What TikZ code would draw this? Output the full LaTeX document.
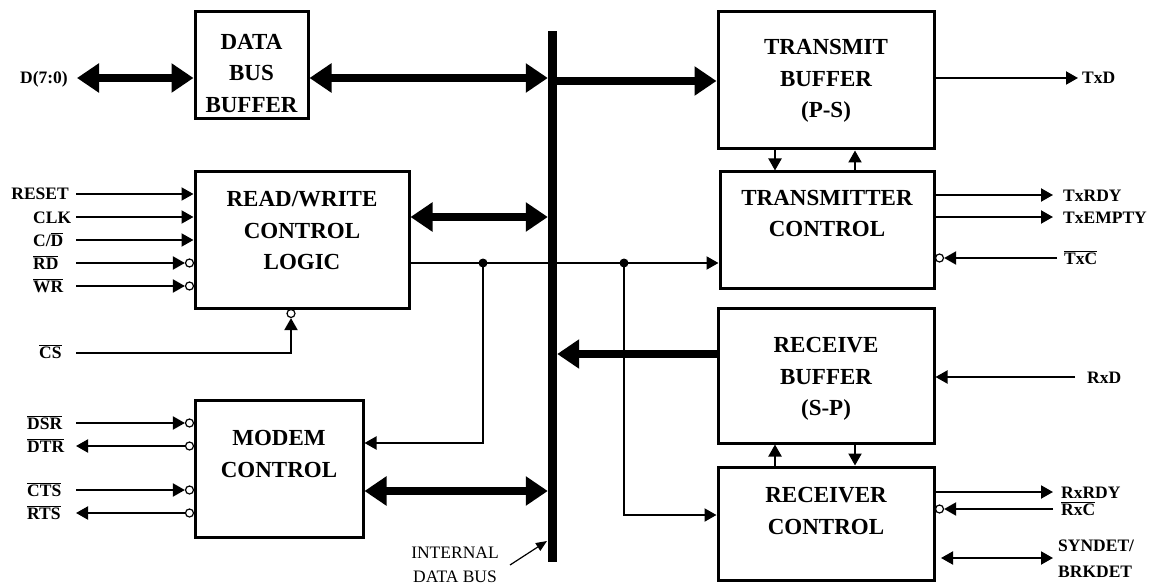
\documentclass[tikz,border=0pt]{standalone}
\usepackage{fontspec}
\setmainfont{Liberation Serif}
\usetikzlibrary{arrows.meta}
\newcommand{\ovl}[1]{\ensuremath{\overline{\hbox{#1}}}}
\newcommand{\bt}[2]{\raisebox{#1}[0pt][0pt]{\begin{tabular}{@{}c@{}}#2\end{tabular}}}
\begin{document}
\begin{tikzpicture}[x=1pt,y=-1pt,
  box/.style={draw, line width=3pt, font=\fontsize{23}{31.5}\selectfont\bfseries, inner sep=0pt},
  sig/.style={line width=2pt, -{Triangle[length=12pt,width=13pt]}},
  sigb/.style={line width=2pt, {Triangle[length=12pt,width=13pt]}-{Triangle[length=12pt,width=13pt]}},
  busarr/.style={line width=8pt, -{Triangle[length=22pt,width=28pt]}},
  busarrb/.style={line width=8pt, {Triangle[length=22pt,width=28pt]}-{Triangle[length=22pt,width=28pt]}},
  lbl/.style={font=\fontsize{17.5}{20}\selectfont\bfseries, inner sep=0pt},
  bub/.style={circle, draw, fill=white, line width=1.2pt, minimum size=8pt, inner sep=0pt},
  jdot/.style={circle, fill, minimum size=9pt, inner sep=0pt}]
\useasboundingbox (0,0) rectangle (1153,588);

% bus
\node[fill, inner sep=0pt, minimum width=9pt, minimum height=531pt] (bus) at (552.5,296.5) {};

% boxes
\node[box, minimum width=113pt, minimum height=107pt] (dbb) at (251.5,65.5) {\bt{-15pt}{DATA\\BUS\\BUFFER}};
\node[box, minimum width=214pt, minimum height=136pt] (rw) at (302,240) {\bt{2pt}{READ/WRITE\\CONTROL\\LOGIC}};
\node[box, minimum width=168pt, minimum height=137pt] (mc) at (279,468.5) {\bt{7pt}{MODEM\\CONTROL}};
\node[box, minimum width=216pt, minimum height=137pt] (tb) at (826,80.5) {\bt{-5.5pt}{TRANSMIT\\BUFFER\\(P-S)}};
\node[box, minimum width=214pt, minimum height=116pt] (tc) at (827,230) {\bt{9pt}{TRANSMITTER\\CONTROL}};
\node[box, minimum width=216pt, minimum height=135pt] (rb) at (826,375.5) {\bt{-8.5pt}{RECEIVE\\BUFFER\\(S-P)}};
\node[box, minimum width=216pt, minimum height=113pt] (rc) at (826,523.5) {\bt{5pt}{RECEIVER\\CONTROL}};

% D(7:0) and bus arrows
\node[lbl, anchor=base east] (lD) at (68,84) {D(7:0)};
\coordinate (pD) at (77,78);
\draw[busarrb] (pD) -- (dbb.west |- pD);
\draw[busarrb] (dbb.east |- pD) -- (bus.west |- pD);
\coordinate (rTB) at (0,81);
\draw[busarr] (bus.east |- rTB) -- (tb.west |- rTB);
\coordinate (rRW) at (0,217);
\draw[busarrb] (rw.east |- rRW) -- (bus.west |- rRW);
\coordinate (rMC) at (0,491);
\draw[busarrb] (mc.east |- rMC) -- (bus.west |- rMC);
\coordinate (rRB) at (0,354);
\draw[busarr] (rb.west |- rRB) -- (bus.east |- rRB);

% left inputs to read/write logic
\node[lbl, anchor=base east] (lRESET) at (69,200) {RESET};
\node[lbl, anchor=base west] (lCLK) at (33,223) {CLK};
\node[lbl, anchor=base west] (lCD) at (33,246) {C/\ovl{D}};
\node[lbl, anchor=base west] (lRD) at (33,269) {\ovl{RD}};
\node[lbl, anchor=base west] (lWR) at (33,292) {\ovl{WR}};
\coordinate (pRESET) at (76,194);
\coordinate (pCLK) at (76,217);
\coordinate (pCD) at (76,240);
\coordinate (pRD) at (76,263);
\coordinate (pWR) at (76,286);
\draw[sig] (pRESET) -- (rw.west |- pRESET);
\draw[sig] (pCLK) -- (rw.west |- pCLK);
\draw[sig] (pCD) -- (rw.west |- pCD);
\node[bub, xshift=-4pt] (bRD) at (rw.west |- pRD) {};
\node[bub, xshift=-4pt] (bWR) at (rw.west |- pWR) {};
\draw[sig] (pRD) -- (bRD.west);
\draw[sig] (pWR) -- (bWR.west);

% CS
\node[lbl, anchor=base west] (lCS) at (39,358) {\ovl{CS}};
\coordinate (pCS) at (76,353);
\coordinate (cCS) at (291,353);
\node[bub, yshift=-4pt] (bCS) at (rw.south -| cCS) {};
\draw[sig] (pCS) -- (cCS) -- (bCS.south);

% modem signals
\node[lbl, anchor=base west] (lDSR) at (27,429) {\ovl{DSR}};
\node[lbl, anchor=base west] (lDTR) at (27,452) {\ovl{DTR}};
\node[lbl, anchor=base west] (lCTS) at (27,496) {\ovl{CTS}};
\node[lbl, anchor=base west] (lRTS) at (27,519) {\ovl{RTS}};
\coordinate (pDSR) at (76,423);
\coordinate (pDTR) at (76,446);
\coordinate (pCTS) at (76,490);
\coordinate (pRTS) at (76,513);
\node[bub, xshift=-4pt] (bDSR) at (mc.west |- pDSR) {};
\node[bub, xshift=-4pt] (bDTR) at (mc.west |- pDTR) {};
\node[bub, xshift=-4pt] (bCTS) at (mc.west |- pCTS) {};
\node[bub, xshift=-4pt] (bRTS) at (mc.west |- pRTS) {};
\draw[sig] (pDSR) -- (bDSR.west);
\draw[sig] (bDTR.west) -- (pDTR);
\draw[sig] (pCTS) -- (bCTS.west);
\draw[sig] (bRTS.west) -- (pRTS);

% internal control line with junctions
\coordinate (j1) at (483,263);
\coordinate (j2) at (624,263);
\coordinate (m1) at (483,443);
\coordinate (m2) at (624,515);
\draw[sig] (rw.east |- j1) -- (tc.west |- j1);
\draw[sig] (j1) -- (m1) -- (mc.east |- m1);
\draw[sig] (j2) -- (m2) -- (rc.west |- m2);
\node[jdot] (dj1) at (j1) {};
\node[jdot] (dj2) at (j2) {};

% buffer <-> control arrows
\coordinate (a1) at (775,0);
\coordinate (a2) at (855,0);
\draw[sig] (a1 |- tb.south) -- (a1 |- tc.north);
\draw[sig] (a2 |- tc.north) -- (a2 |- tb.south);
\draw[sig] (a1 |- rc.north) -- (a1 |- rb.south);
\draw[sig] (a2 |- rb.south) -- (a2 |- rc.north);

% right signals
\coordinate (pTxD) at (1078,78);
\draw[sig] (tb.east |- pTxD) -- (pTxD);
\node[lbl, anchor=base west] (lTxD) at (1082,84) {TxD};
\coordinate (pTxRDY) at (1053,195);
\coordinate (pTxE) at (1053,217);
\draw[sig] (tc.east |- pTxRDY) -- (pTxRDY);
\draw[sig] (tc.east |- pTxE) -- (pTxE);
\node[lbl, anchor=base west] (lTxRDY) at (1063,201) {TxRDY};
\node[lbl, anchor=base west] (lTxE) at (1063,223) {TxEMPTY};
\coordinate (pTxC) at (1057,258);
\node[bub, xshift=4pt] (bTxC) at (tc.east |- pTxC) {};
\draw[sig] (pTxC) -- (bTxC.east);
\node[lbl, anchor=base west] (lTxC) at (1064,264) {\ovl{TxC}};

\coordinate (pRxD) at (1075,377);
\draw[sig] (pRxD) -- (rb.east |- pRxD);
\node[lbl, anchor=base west] (lRxD) at (1087,383) {RxD};

\coordinate (pRxRDY) at (1053,492);
\draw[sig] (rc.east |- pRxRDY) -- (pRxRDY);
\node[lbl, anchor=base west] (lRxRDY) at (1061,498) {RxRDY};
\coordinate (pRxC) at (1053,509);
\node[bub, xshift=4pt] (bRxC) at (rc.east |- pRxC) {};
\draw[sig] (pRxC) -- (bRxC.east);
\node[lbl, anchor=base west] (lRxC) at (1061,515) {\ovl{RxC}};
\coordinate (sL) at (941,558);
\coordinate (sR) at (1053,558);
\draw[sigb] (sL) -- (sR);
\node[lbl, font=\fontsize{17.5}{26}\selectfont\bfseries, align=left, anchor=west] (lSYN) at (1058,559) {SYNDET/\\BRKDET};

% internal data bus label
\node[font=\fontsize{17.5}{24}\selectfont, align=center, inner sep=0pt] (lIDB) at (455,565) {INTERNAL\\DATA BUS};
\coordinate (ibs) at (510,565);
\coordinate (ibe) at (547,541);
\draw[line width=1.2pt, -{Triangle[length=11pt,width=9pt]}] (ibs) -- (ibe);
\end{tikzpicture}
\end{document}
